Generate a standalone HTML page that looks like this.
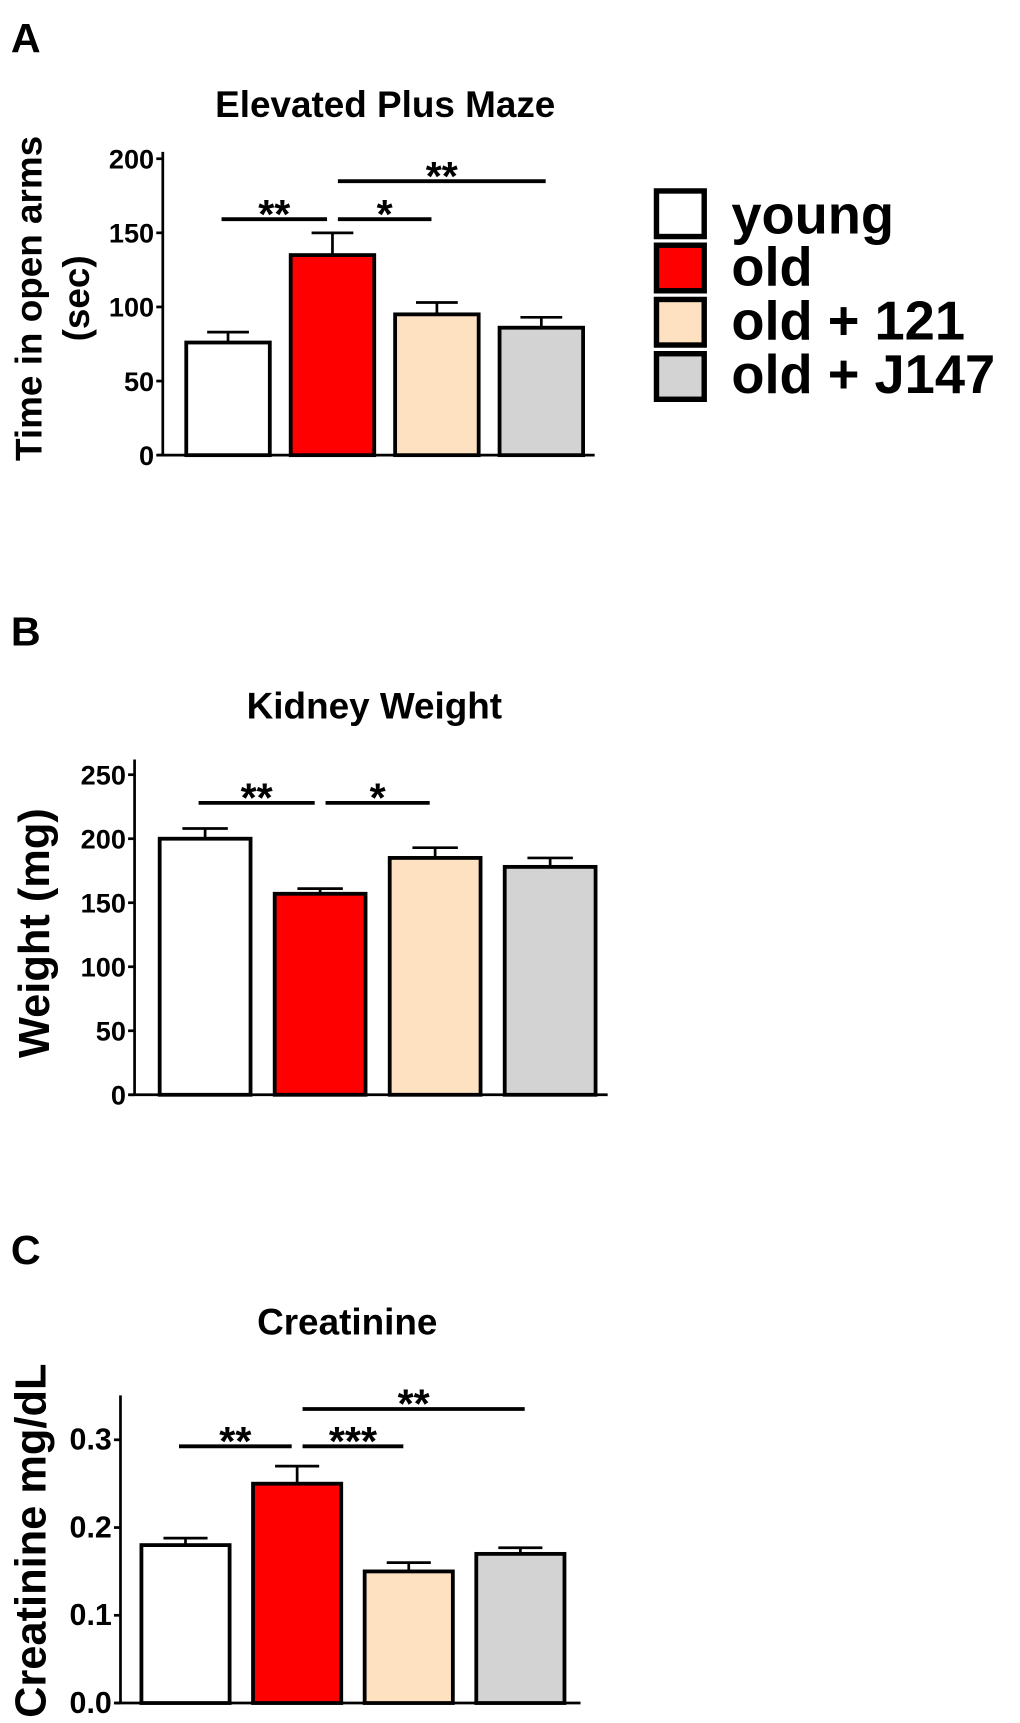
<!DOCTYPE html>
<html><head><meta charset="utf-8"><style>
html,body{margin:0;padding:0;background:#fff}
svg{display:block;font-family:"Liberation Sans",Arial,sans-serif;font-weight:bold}
</style></head><body>
<svg id="fig" width="1020" height="1723" viewBox="0 0 940 1588" xmlns="http://www.w3.org/2000/svg">
<g><text x="10" y="48" font-size="38">A</text></g>
<g><text x="10" y="595" font-size="38">B</text></g>
<g><text x="10" y="1165" font-size="38">C</text></g>
<g>
 <rect x="605" y="176" width="44" height="42" fill="#fff" stroke="#000" stroke-width="5"/>
 <text x="674" y="215" font-size="50">young</text>
 <rect x="605" y="226" width="44" height="42" fill="#ff0000" stroke="#000" stroke-width="5"/>
 <text x="674" y="263" font-size="50">old</text>
 <rect x="605" y="276" width="44" height="42" fill="#fde1c0" stroke="#000" stroke-width="5"/>
 <text x="674" y="313" font-size="50">old + 121</text>
 <rect x="605" y="326" width="44" height="42" fill="#d3d3d3" stroke="#000" stroke-width="5"/>
 <text x="674" y="362" font-size="50">old + J147</text>
</g>
</svg>
<script>
const groups = ["young","old","old + 121","old + J147"];
const colors = ["#ffffff","#ff0000","#fde1c0","#d3d3d3"];
// Panel A
const aValues = [76, 135, 95, 86];
const aErrors = [7, 15, 8, 7];
const aTicks = [0, 50, 100, 150, 200];
const aSig = [[0,1,"**",0],[1,2,"*",0],[1,3,"**",1]];
// Panel B
const bValues = [200, 157, 185, 178];
const bErrors = [8, 4, 8, 7];
const bTicks = [0, 50, 100, 150, 200, 250];
const bSig = [[0,1,"**",0],[1,2,"*",0]];
// Panel C
const cValues = [0.18, 0.25, 0.15, 0.17];
const cErrors = [0.008, 0.02, 0.01, 0.007];
const cTicks = ["0.0","0.1","0.2","0.3"];
const cSig = [[0,1,"**",0],[1,2,"***",0],[1,3,"**",1]];

const NS="http://www.w3.org/2000/svg";
const svg=document.getElementById('fig');
function mk(tag,attrs,parent){const e=document.createElementNS(NS,tag);for(const k in attrs)e.setAttribute(k,attrs[k]);(parent||svg).appendChild(e);return e;}

function panel(cfg){
  const g=mk('g',{});
  
  
  const y=v=>cfg.y0-(v-cfg.vmin)/(cfg.vmax-cfg.vmin)*(cfg.y0-cfg.yTop);
  const t=mk('text',{x:cfg.titleX,y:cfg.titleY,'font-size':34,'text-anchor':'middle'},g);
  t.textContent=cfg.title;
  
  
  cfg.ylabel.forEach((lab,i)=>{
    const l=mk('text',{transform:`translate(${cfg.ylabX[i]},${cfg.ylabY}) rotate(-90)`,'font-size':cfg.ylabSize,'text-anchor':'middle'},g);
    l.textContent=lab;
    
    
  });
  const ya=mk('line',{x1:cfg.ax,x2:cfg.ax,y1:cfg.axTop,y2:cfg.y0,stroke:'#000','stroke-width':2.5},g);
  
  
  cfg.ticks.forEach(tv=>{
    const v=parseFloat(tv);
    const yy=y(v);
    const tk=mk('line',{x1:cfg.ax-6,x2:cfg.ax,y1:yy,y2:yy,stroke:'#000','stroke-width':2.5},g);
    
    
    const tl=mk('text',{x:cfg.ax-8,y:yy+9,'font-size':cfg.tickSize,'text-anchor':'end'},g);
    tl.textContent=tv;
    
    
  });
  const step=(cfg.barsEnd-cfg.barsStart)/groups.length;
  const bw=step*cfg.bwFrac;
  const cx=i=>cfg.barsStart+step*(i+0.5);
  cfg.values.forEach((v,i)=>{
    const top=y(v), etop=y(v+cfg.errors[i]);
    const eb=mk('line',{x1:cx(i),x2:cx(i),y1:etop,y2:top,stroke:'#000','stroke-width':2.5},g);
    
    
    const ec=mk('line',{x1:cx(i)-bw*0.25,x2:cx(i)+bw*0.25,y1:etop,y2:etop,stroke:'#000','stroke-width':2.5},g);
    
    
    const r=mk('rect',{x:cx(i)-bw/2,y:top,width:bw,height:cfg.y0-top,fill:colors[i],stroke:'#000','stroke-width':3.5},g);
    
    
  });
  const xa=mk('line',{x1:cfg.ax-5,x2:cfg.xEnd,y1:cfg.y0,y2:cfg.y0,stroke:'#000','stroke-width':2.5},g);
  
  
  cfg.sig.forEach(s=>{
    const yy=cfg.sigY[s[3]];
    const x1=cx(s[0])+(s[0]===0?-6:5), x2=cx(s[1])+(s[1]-s[0]>1?4:-5);
    const ln=mk('line',{x1:x1,x2:x2,y1:yy,y2:yy,stroke:'#000','stroke-width':3.5},g);
    
    
    const st=mk('text',{x:(x1+x2)/2,y:yy+8,'font-size':38,'text-anchor':'middle'},g);
    st.textContent=s[2];
    
    
  });
}
panel({name:'panel-a-elevated-plus-maze',title:'Elevated Plus Maze',titleX:355,titleY:108,
  ylabel:['Time in open arms','(sec)'],ylabX:[38,82],ylabY:275,ylabSize:34,
  ax:150,axTop:140,y0:419.5,yTop:146.3,vmin:0,vmax:200,xEnd:548,ticks:aTicks,tickSize:25,
  values:aValues,errors:aErrors,barsStart:162,barsEnd:547,bwFrac:0.8,sig:aSig,sigY:[202,167]});
panel({name:'panel-b-kidney-weight',title:'Kidney Weight',titleX:345,titleY:662,
  ylabel:['Weight (mg)'],ylabX:[45],ylabY:860,ylabSize:40,
  ax:124,axTop:700,y0:1009,yTop:714,vmin:0,vmax:250,xEnd:560,ticks:bTicks,tickSize:25,
  values:bValues,errors:bErrors,barsStart:136,barsEnd:560,bwFrac:0.79,sig:bSig,sigY:[740,740]});
panel({name:'panel-c-creatinine',title:'Creatinine',titleX:320,titleY:1230,
  ylabel:['Creatinine mg/dL'],ylabX:[42],ylabY:1420,ylabSize:40,
  ax:111,axTop:1286,y0:1569.6,yTop:1327,vmin:0,vmax:0.3,xEnd:535,ticks:cTicks,tickSize:28,
  values:cValues,errors:cErrors,barsStart:119.5,barsEnd:531,bwFrac:0.79,sig:cSig,sigY:[1333,1298.6]});
</script>
</body></html>
